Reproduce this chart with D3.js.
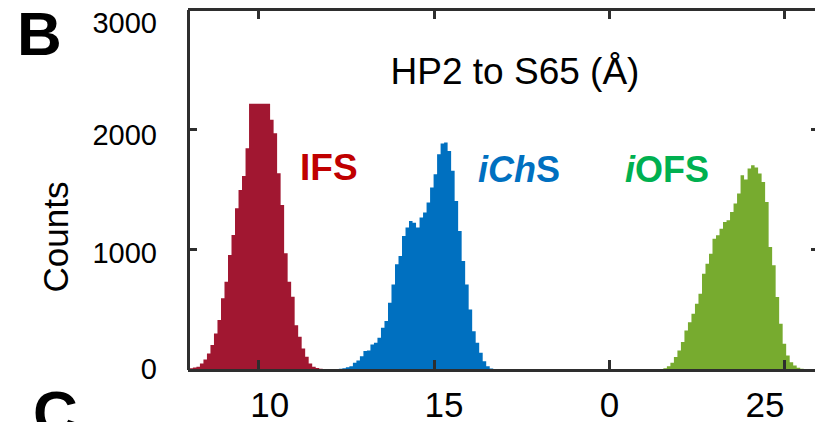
<!doctype html>
<html lang="en">
<head>
<meta charset="utf-8">
<script src="https://cdn.jsdelivr.net/npm/d3@7"></script>
<style>
body { margin: 0; background: #fff; font-family: "Liberation Sans", Arial, sans-serif; }
.axis path, .axis line { stroke: #2e2e2e; stroke-width: 3; fill: none; shape-rendering: crispEdges; }
.axis text { fill: #000; font-family: "Liberation Sans", Arial, sans-serif; }
</style>
</head>
<body>
<svg id="chart" width="815" height="422"></svg>
<script>
// histogram bins (0.1 A wide), counts
var binWidth = 0.1;

var ifsStart = 8.04;
var ifsCounts = [10, 16, 22, 50, 83, 133, 203, 300, 411, 592, 731, 953, 1119, 1342, 1494, 1611, 1842,
  2211, 2211, 2211, 2211, 2211, 2211,
  2078, 1967, 1633, 1369, 967, 731, 606, 369, 272, 175, 106, 50, 22, 12, 6];

var ichsStart = 12.2;
var ichsCounts = [3, 6, 10, 18, 28, 56, 75, 111, 153, 158, 208, 222, 264, 347, 403, 556, 708, 875, 944,
  1111, 1181, 1236, 1222, 1181, 1264, 1306, 1389, 1514, 1625, 1792, 1881, 1889, 1819, 1653, 1403,
  1153, 903, 708, 500, 319, 222, 139, 69, 28, 8, 3];

var iofsStart = 21.55;
var iofsCounts = [11, 28, 56, 103, 158, 228, 325, 394, 464, 547, 631, 797, 881, 964, 1089, 1117, 1172,
  1228, 1242, 1311, 1381, 1464, 1617, 1581, 1672, 1700, 1681, 1631, 1561, 1394, 1019, 867, 603,
  381, 214, 117, 61, 33, 14, 6, 3];

var xTicks = [10, 15, 20, 25];
var xTickLabels = ["10", "15", "0", "25"];
var yTicks = [0, 1000, 2000, 3000];

var svg = d3.select("#chart");

var x = d3.scaleLinear().domain([8, 26]).range([188, 819.5]);
var y = d3.scaleLinear().domain([0, 3000]).range([369.5, 9]);

function bins(start, counts) {
  var b = counts.map(function(c, i) { return { x0: start + i * binWidth, n: c }; });
  b.push({ x0: start + counts.length * binWidth, n: 0 });
  return b;
}

var series = [
  { data: bins(ifsStart, ifsCounts), color: "#a11731" },
  { data: bins(ichsStart, ichsCounts), color: "#0070c0" },
  { data: bins(iofsStart, iofsCounts), color: "#77ab2f" }
];

var area = d3.area()
  .curve(d3.curveStepAfter)
  .x(function(d) { return x(d.x0); })
  .y0(y(0))
  .y1(function(d) { return y(d.n); });

svg.append("defs").append("clipPath").attr("id", "clip")
  .append("rect").attr("x", x(8)).attr("y", y(3000)).attr("width", x(26) - x(8)).attr("height", y(0) - y(3000));

var plot = svg.append("g").attr("clip-path", "url(#clip)");
series.forEach(function(s) {
  plot.append("path")
    .datum(s.data)
    .attr("d", area)
    .attr("fill", s.color);
});

// frame with inward ticks
svg.append("g").attr("class", "axis")
  .attr("transform", "translate(0," + y(0) + ")")
  .call(d3.axisBottom(x).tickValues(xTicks).tickSizeInner(-10).tickSizeOuter(0)
    .tickFormat(function(d, i) { return xTickLabels[i]; }))
  .selectAll("text").attr("font-size", "35px").attr("y", 47).attr("dy", 0)
  .attr("dx", function(d, i) { return [11, 10, 0, -20][i]; });

svg.append("g").attr("class", "axis")
  .attr("transform", "translate(0," + y(3000) + ")")
  .call(d3.axisTop(x).tickValues(xTicks).tickSizeInner(-10).tickSizeOuter(0).tickFormat(""));

svg.append("g").attr("class", "axis")
  .attr("transform", "translate(" + x(8) + ",0)")
  .call(d3.axisLeft(y).tickValues(yTicks).tickSizeInner(-9).tickSizeOuter(0).tickFormat(d3.format("d")))
  .selectAll("text").attr("font-size", "29px").attr("x", -31)
  .attr("dy", function(d) { return d === 3000 ? "0.82em" : (d === 0 ? "0.3em" : "0.55em"); })
  .attr("y", function(d) { return d === 1000 ? -3 : (d === 2000 ? -1 : 0); });

svg.append("g").attr("class", "axis")
  .attr("transform", "translate(" + x(26) + ",0)")
  .call(d3.axisRight(y).tickValues(yTicks).tickSizeInner(-9).tickSizeOuter(0).tickFormat(""));

// labels
svg.append("text").attr("x", 515).attr("y", 84).attr("text-anchor", "middle")
  .attr("font-size", "37px").text("HP2 to S65 (Å)");

svg.append("text").attr("transform", "translate(68,237) rotate(-90)")
  .attr("text-anchor", "middle").attr("font-size", "35px").text("Counts");

svg.append("text").attr("x", 17).attr("y", 55).attr("font-size", "62px")
  .attr("font-weight", "bold").text("B");
svg.append("text").attr("x", 33).attr("y", 434).attr("font-size", "62px")
  .attr("font-weight", "bold").text("C");

var ifs = svg.append("text").attr("x", 300).attr("y", 180).attr("font-size", "37px")
  .attr("font-weight", "bold").attr("fill", "#c00000").text("IFS");

var ichs = svg.append("text").attr("x", 478).attr("y", 182).attr("font-size", "36px")
  .attr("font-weight", "bold").attr("fill", "#0070c0");
ichs.append("tspan").attr("font-style", "italic").text("iCh");
ichs.append("tspan").text("S");

var iofs = svg.append("text").attr("x", 625).attr("y", 182).attr("font-size", "36px")
  .attr("font-weight", "bold").attr("fill", "#00b050");
iofs.append("tspan").attr("font-style", "italic").text("i");
iofs.append("tspan").text("OFS");
</script>
</body>
</html>
